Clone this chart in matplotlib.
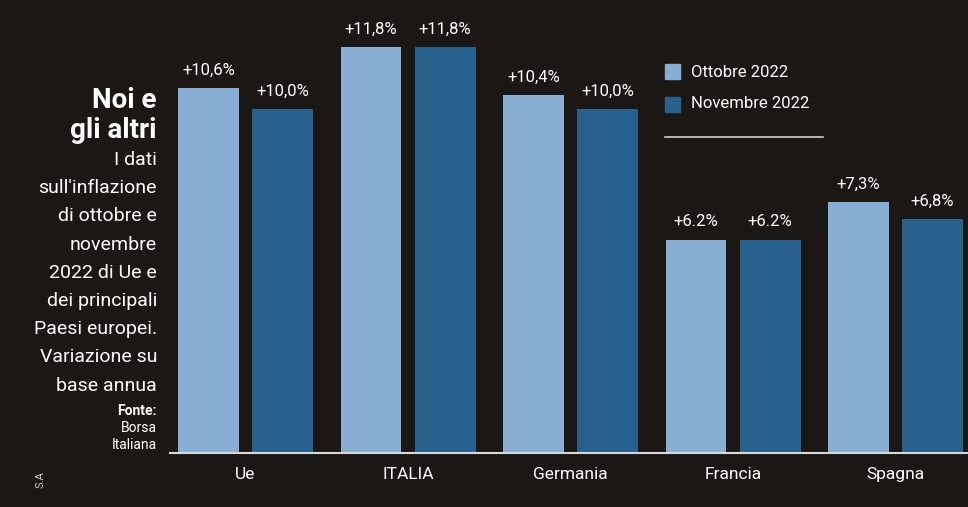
import numpy as np
import matplotlib.pyplot as plt

paesi = ["Ue", "ITALIA", "Germania", "Francia", "Spagna"]
ottobre = [10.6, 11.8, 10.4, 6.2, 7.3]
novembre = [10.0, 11.8, 10.0, 6.2, 6.8]
lab_ott = ["+10,6%", "+11,8%", "+10,4%", "+6.2%", "+7,3%"]
lab_nov = ["+10,0%", "+11,8%", "+10,0%", "+6.2%", "+6,8%"]

BG = "#1b1714"
LIGHT = "#88afd3"
DARK = "#28608e"

plt.rcParams["font.family"] = ["Roboto", "DejaVu Sans"]

fig = plt.figure(figsize=(9.68, 5.07), dpi=100, facecolor=BG)
ax = fig.add_axes([170 / 968, 1 - 453 / 507, (968 - 170) / 968, 453 / 507])
ax.set_facecolor(BG)

x = np.arange(len(paesi))
w = 0.375
off = 0.228
b1 = ax.bar(x - off, ottobre, w, color=LIGHT)
b2 = ax.bar(x + off, novembre, w, color=DARK)

for rect, t in zip(b1, lab_ott):
    ax.text(rect.get_x() + rect.get_width() / 2, rect.get_height() + 0.3, t,
            ha="center", va="bottom", color="white", fontsize=12)
for rect, t in zip(b2, lab_nov):
    ax.text(rect.get_x() + rect.get_width() / 2, rect.get_height() + 0.3, t,
            ha="center", va="bottom", color="white", fontsize=12)

ax.set_xlim(-0.465, 4.446)
ax.set_ylim(0, 13.17)
for s in ["top", "right", "left"]:
    ax.spines[s].set_visible(False)
ax.spines["bottom"].set_color("#d8d8d8")
ax.spines["bottom"].set_linewidth(1.5)
ax.set_yticks([])
ax.set_xticks(x)
ax.set_xticklabels(paesi, color="white", fontsize=12.5)
ax.tick_params(axis="x", length=0, pad=10)

# legenda
fig.patches.append(plt.Rectangle((665 / 968, 1 - 79 / 507), 15 / 968, 15 / 507,
                                 transform=fig.transFigure, color=LIGHT))
fig.patches.append(plt.Rectangle((665 / 968, 1 - 112 / 507), 15 / 968, 15 / 507,
                                 transform=fig.transFigure, color=DARK))
fig.text(691 / 968, 1 - 72 / 507, "Ottobre 2022", color="white", fontsize=12, va="center")
fig.text(691 / 968, 1 - 104 / 507, "Novembre 2022", color="white", fontsize=12, va="center")
fig.add_artist(plt.Line2D([665 / 968, 823 / 968], [1 - 137 / 507, 1 - 137 / 507],
                          transform=fig.transFigure, color="#d0d0d0", lw=1.2))

# testo a sinistra
rx = 157 / 968
fig.text(rx, 1 - 100 / 507, "Noi e", color="white", fontsize=20, fontweight="bold",
         ha="right", va="center")
fig.text(rx, 1 - 131 / 507, "gli altri", color="white", fontsize=20, fontweight="bold",
         ha="right", va="center")
righe = ["I dati", "sull'inflazione", "di ottobre e", "novembre", "2022 di Ue e",
         "dei principali", "Paesi europei.", "Variazione su", "base annua"]
for i, r in enumerate(righe):
    fig.text(rx, 1 - (160 + i * 28.2) / 507, r, color="white", fontsize=14,
             ha="right", va="center")
fig.text(rx, 1 - 411 / 507, "Fonte:", color="white", fontsize=10, fontweight="bold",
         ha="right", va="center")
fig.text(rx, 1 - 428 / 507, "Borsa", color="white", fontsize=10, ha="right", va="center")
fig.text(rx, 1 - 445 / 507, "Italiana", color="white", fontsize=10, ha="right", va="center")
fig.text(40 / 968, 1 - 480 / 507, "S.A", color="#cccccc", fontsize=8, rotation=90,
         ha="center", va="center")

fig.savefig("out.png", dpi=100, facecolor=BG)
